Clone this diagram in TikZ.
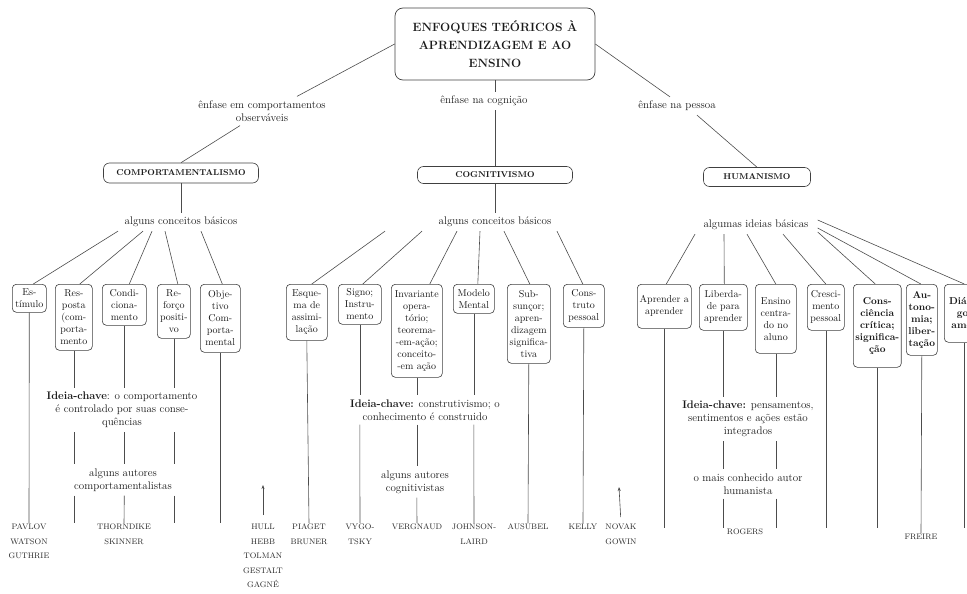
\documentclass[tikz,border=0pt]{standalone}
\usepackage{fontspec}
\usetikzlibrary{arrows.meta}
\newcommand\bxfont{\fontsize{10}{12}\selectfont}
\newcommand\lbfont{\fontsize{11}{13}\selectfont}
\newcommand\nmfont{\fontsize{8}{14.5}\selectfont\addfontfeatures{LetterSpace=12}}
\newcommand\hdfont{\fontsize{8.5}{10}\selectfont\bfseries\addfontfeatures{LetterSpace=5}}
\newcommand\ttlfont{\fontsize{12}{18}\selectfont\bfseries\addfontfeatures{LetterSpace=6}}
\begin{document}
\begin{tikzpicture}[x=1pt,y=-1pt,
  bx/.style={draw=black!75, line width=0.6pt, rounded corners=4pt, align=center,
    font=\bxfont, inner sep=2pt, anchor=north west, text=black!90},
  bbx/.style={bx, font=\bxfont\bfseries},
  hd/.style={draw=black!75, line width=0.6pt, rounded corners=6pt, font=\hdfont,
    inner sep=0pt, text=black!90},
  lb/.style={align=center, font=\lbfont, inner sep=4pt, text=black!90},
  nm/.style={align=center, font=\nmfont, inner sep=1pt, anchor=north, text=black!85},
  ln/.style={draw=black!70, line width=0.6pt},
  arr/.style={ln, -{Stealth[length=4pt,width=3pt]}}]
\useasboundingbox (0,0) rectangle (967,594);
\clip (0,0) rectangle (967,594);

% title
\node[draw=black!75, line width=0.7pt, rounded corners=8pt, minimum width=200pt,
  minimum height=72pt, align=center, font=\ttlfont, text=black!90, inner sep=2pt]
  (title) at (495,44) {ENFOQUES TEÓRICOS À\\APRENDIZAGEM E AO\\ENSINO};

% emphasis labels
\node[lb] (empA) at (262,111) {ênfase em comportamentos\\observáveis};
\node[lb] (empB) at (484,101) {ênfase na cognição};
\node[lb] (empC) at (677,106) {ênfase na pessoa};

% headers
\node[hd, minimum width=155pt, minimum height=20pt] (comp) at (181,173) {COMPORTAMENTALISMO};
\node[hd, minimum width=155pt, minimum height=17pt] (cog) at (495,175) {COGNITIVISMO};
\node[hd, minimum width=107pt, minimum height=19pt] (hum) at (757,177) {HUMANISMO};

% concept labels
\node[lb] (concA) at (181,222) {alguns conceitos básicos};
\node[lb] (concB) at (495,222) {alguns conceitos básicos};
\node[lb] (concC) at (756,225) {algumas ideias básicas};

% boxes
\node[bx, minimum width=34pt, minimum height=28pt] (estim) at (12,284) {Es-\\tímulo};
\node[bx, minimum width=37pt, minimum height=66pt] (resp) at (55,284) {Res-\\posta\\(com-\\porta-\\mento};
\node[bx, minimum width=44pt, minimum height=41pt] (cond) at (102,284) {Condi-\\ciona-\\mento};
\node[bx, minimum width=33pt, minimum height=54pt] (refor) at (157,284) {Re-\\forço\\positi-\\vo};
\node[bx, minimum width=40pt, minimum height=68pt] (objet) at (200,284) {Obje-\\tivo\\Com-\\porta-\\mental};

\node[bx, minimum width=41pt, minimum height=56pt] (esque) at (286,284) {Esque-\\ma de\\assimi-\\lação};
\node[bx, minimum width=43pt, minimum height=40pt] (signo) at (338,284) {Signo;\\Instru-\\mento};
\node[bx, minimum width=51pt, minimum height=93pt] (invar) at (391,284) {Invariante\\opera-\\tório;\\teorema-\\-em-ação;\\conceito-\\-em ação};
\node[bx, minimum width=41pt, minimum height=29pt] (model) at (453,284) {Modelo\\Mental};
\node[bx, minimum width=43pt, minimum height=79pt] (subs) at (507,284) {Sub-\\sunçor;\\apren-\\dizagem\\significa-\\tiva};
\node[bx, minimum width=41pt, minimum height=43pt] (constr) at (563,284) {Cons-\\truto\\pessoal};

\node[bx, minimum width=54pt, minimum height=44pt] (aprend) at (637,284) {Aprender a\\aprender};
\node[bx, minimum width=48pt, minimum height=46pt] (liber) at (699,284) {Liberda-\\de para\\aprender};
\node[bx, minimum width=41pt, minimum height=69pt] (ensino) at (755,284) {Ensino\\centra-\\do no\\aluno};
\node[bx, minimum width=37pt, minimum height=46pt] (cresc) at (807,284) {Cresci-\\mento\\pessoal};
\node[bbx, minimum width=44pt, minimum height=83pt] (consc) at (853,284) {Cons-\\ciência\\crítica;\\significa-\\ção};
\node[bbx, minimum width=31pt, minimum height=71pt] (auton) at (906,284) {Au-\\tono-\\mia;\\liber-\\tação};
\node[bbx, minimum width=40pt, minimum height=58pt] (dialo) at (944,284) {Diálo-\\go;\\amor};

% key ideas and author labels
\node[lb] (ideiaA) at (122,410) {\textbf{Ideia-chave}: o comportamento\\é controlado por suas conse-\\quências};
\node[lb] (autA) at (123,480) {alguns autores\\comportamentalistas};
\node[lb] (ideiaB) at (425,410) {\textbf{Ideia-chave:} construtivismo; o\\conhecimento é construido};
\node[lb] (autB) at (415,482) {alguns autores\\cognitivistas};
\node[lb] (ideiaC) at (748,419) {\textbf{Ideia-chave:} pensamentos,\\sentimentos e ações estão\\integrados};
\node[lb] (maisC) at (748,484) {o mais conhecido autor\\humanista};

% names
\node[nm] (pavlov) at (29,523) {PAVLOV\\WATSON\\GUTHRIE};
\node[nm] (thorn) at (124,523) {THORNDIKE\\SKINNER};
\node[nm] (hull) at (263,523) {HULL\\HEBB\\TOLMAN\\GESTALT\\GAGNÉ};
\node[nm] (piaget) at (309,523) {PIAGET\\BRUNER};
\node[nm] (vygo) at (360,523) {VYGO-\\TSKY};
\node[nm] (vergn) at (417,523) {VERGNAUD};
\node[nm] (johns) at (474,523) {JOHNSON-\\LAIRD};
\node[nm] (ausub) at (528,523) {AUSUBEL};
\node[nm] (kelly) at (583,523) {KELLY};
\node[nm] (novak) at (621,523) {NOVAK\\GOWIN};
\node[nm] (rogers) at (745,528) {ROGERS};
\node[nm] (freire) at (921,533) {FREIRE};

\coordinate (bot) at (0,523);
\coordinate (botC) at (0,528);
\coordinate (hullTip) at (263,485);
\coordinate (novakTip) at (619,487);

% top connectors
\draw[ln] (title.west) -- ([xshift=35pt]empA.north);
\draw[ln] ([xshift=-22pt]empA.south) -- (comp.north);
\draw[ln] (title.south) -- (title.south |- empB.north);
\draw[ln] (title.south |- empB.south) -- (cog.north);
\draw[ln] (title.east) -- ([xshift=-7pt]empC.north);
\draw[ln] ([xshift=20pt]empC.south) -- (hum.north);
\draw[ln] (comp.south) -- (concA.north);
\draw[ln] (cog.south) -- (concB.north);

% fan A
\draw[ln] ([xshift=-63pt]concA.south) -- ([xshift=4pt]estim.north);
\draw[ln] ([xshift=-38pt]concA.south) -- ([xshift=6pt]resp.north);
\draw[ln] ([xshift=-29pt]concA.south) -- ([xshift=5pt]cond.north);
\draw[ln] ([xshift=-16pt]concA.south) -- ([xshift=4pt]refor.north);
\draw[ln] ([xshift=20pt]concA.south) -- ([xshift=2pt]objet.north);
% fan B
\draw[ln] ([xshift=-110pt]concB.south) -- ([xshift=5pt]esque.north);
\draw[ln] ([xshift=-73pt]concB.south) -- ([xshift=3pt]signo.north);
\draw[ln] ([xshift=-38pt]concB.south) -- ([xshift=13pt]invar.north);
\draw[ln] ([xshift=-15pt]concB.south) -- ([xshift=4pt]model.north);
\draw[ln] ([xshift=9pt]concB.south) -- ([xshift=1pt]subs.north);
\draw[ln] ([xshift=62pt]concB.south) -- ([xshift=-1pt]constr.north);
% fan C
\draw[ln] ([xshift=-61pt]concC.south) -- ([xshift=2pt]aprend.north);
\draw[ln] ([xshift=-32pt]concC.south) -- ([xshift=1pt]liber.north);
\draw[ln] ([xshift=-9pt]concC.south) -- (ensino.north);
\draw[ln] ([xshift=27pt]concC.south) -- (cresc.north);
\draw[ln] ([xshift=5pt,yshift=-7pt]concC.east) -- ([xshift=-2pt]consc.north);
\draw[ln] ([xshift=5pt,yshift=-3pt]concC.east) -- ([xshift=-1pt]auton.north);
\draw[ln] ([xshift=5pt,yshift=5pt]concC.east) -- (dialo.north);

% verticals A
\draw[ln] (estim.south) -- (pavlov.north);
\draw[ln] (resp.south) -- (resp.south |- ideiaA.north);
\draw[ln] (resp.south |- ideiaA.south) -- (resp.south |- autA.north);
\draw[ln] (resp.south |- autA.south) -- (resp.south |- bot);
\draw[ln] (cond.south) -- (cond.south |- ideiaA.north);
\draw[ln] (cond.south |- ideiaA.south) -- (cond.south |- autA.north);
\draw[ln] (cond.south |- autA.south) -- (thorn.north);
\draw[ln] (refor.south) -- (refor.south |- ideiaA.north);
\draw[ln] (refor.south |- ideiaA.south) -- (refor.south |- autA.north);
\draw[ln] (refor.south |- autA.south) -- (refor.south |- bot);
\draw[ln] (objet.south) -- (objet.south |- bot);
\draw[arr, shorten <=8pt] (hull.north) -- (hullTip);

% verticals B
\draw[ln] (esque.south) -- (piaget.north);
\draw[ln] (signo.south) -- (signo.south |- ideiaB.north);
\draw[ln] (signo.south |- ideiaB.south) -- (vygo.north);
\draw[ln] (invar.south) -- (invar.south |- ideiaB.north);
\draw[ln] (invar.south |- ideiaB.south) -- (invar.south |- autB.north);
\draw[ln] (invar.south |- autB.south) -- (vergn.north);
\draw[ln] (model.south) -- (model.south |- ideiaB.north);
\draw[ln] (model.south |- ideiaB.south) -- (johns.north);
\draw[ln] (subs.south) -- (ausub.north);
\draw[ln] (constr.south) -- (kelly.north);
\draw[arr, shorten <=6pt] (novak.north) -- (novakTip);

% verticals C
\draw[ln] (aprend.south) -- (aprend.south |- botC);
\draw[ln] (liber.south) -- (liber.south |- ideiaC.north);
\draw[ln] (liber.south |- ideiaC.south) -- (liber.south |- maisC.north);
\draw[ln] (liber.south |- maisC.south) -- (liber.south |- botC);
\draw[ln] (ensino.south) -- (ensino.south |- ideiaC.north);
\draw[ln] (ensino.south |- ideiaC.south) -- (ensino.south |- maisC.north);
\draw[ln] (ensino.south |- maisC.south) -- (ensino.south |- botC);
\draw[ln] (cresc.south) -- (cresc.south |- botC);
\draw[ln] (consc.south) -- (consc.south |- botC);
\draw[ln] (auton.south) -- (freire.north);
\draw[ln] (dialo.south) -- (dialo.south |- botC);
\end{tikzpicture}
\end{document}
